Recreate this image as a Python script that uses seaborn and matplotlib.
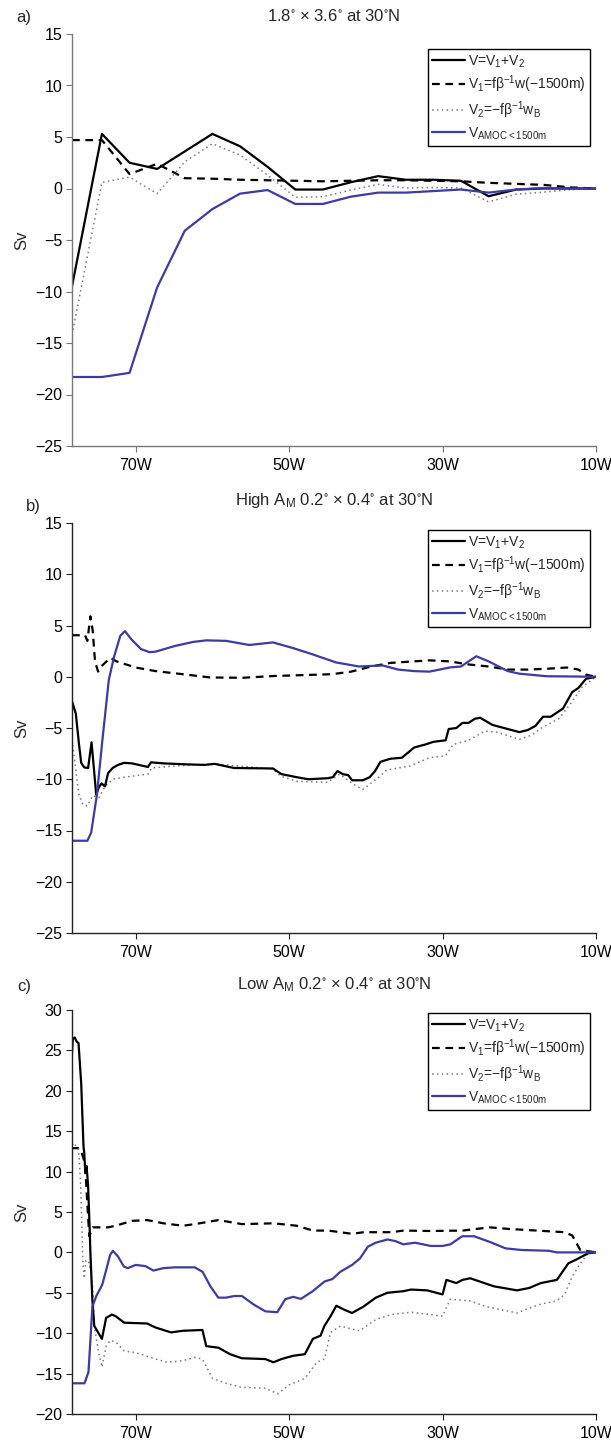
import matplotlib
matplotlib.use("Agg")
import matplotlib.pyplot as plt
import numpy as np
import pandas as pd
import seaborn as sns

sns.set_style("ticks")
plt.rcParams["font.family"] = ["Liberation Sans", "DejaVu Sans"]
plt.rcParams["mathtext.default"] = "regular"

# ---------------- data (lon in degrees east, value in Sv) ----------------
XTICKS = [-70, -50, -30, -10]
XTICKLABELS = ["70W", "50W", "30W", "10W"]

# Panel a: coarse 1.8 x 3.6 model
A_LON = [-78.3, -74.4, -70.8, -67.2, -63.6, -60.0, -56.4, -52.8, -49.2, -45.6,
         -42.0, -38.4, -34.8, -31.2, -27.6, -24.0, -20.4, -16.8, -13.2, -10.0]
A_V = [-9.5, 5.3, 2.5, 1.9, 3.6, 5.3, 4.1, 2.1, -0.1, -0.1,
       0.6, 1.2, 0.85, 0.85, 0.75, -0.75, -0.1, 0.0, 0.0, 0.0]
A_V1 = [4.7, 4.7, 1.4, 2.4, 1.0, 0.95, 0.85, 0.8, 0.75, 0.7,
        0.75, 0.8, 0.8, 0.75, 0.7, 0.55, 0.45, 0.35, 0.1, 0.0]
A_V2 = [-14.2, 0.6, 1.1, -0.5, 2.6, 4.35, 3.25, 1.3, -0.85, -0.8,
        -0.15, 0.4, 0.05, 0.1, 0.05, -1.3, -0.55, -0.35, -0.1, 0.0]
A_AMOC = [-18.3, -18.3, -17.9, -9.6, -4.1, -2.0, -0.5, -0.15, -1.5, -1.5,
          -0.8, -0.4, -0.4, -0.25, -0.1, -0.4, -0.1, 0.05, 0.0, 0.0]

# Panel b: high A_M
B_V = [(-78.3, -2.4), (-77.8, -3.6), (-77.4, -6.5), (-77.1, -8.4), (-76.7, -8.85),
       (-76.2, -8.9), (-75.95, -7.5), (-75.75, -6.4), (-75.5, -8.5), (-75.15, -11.5),
       (-74.8, -10.8), (-74.45, -10.4), (-74.0, -10.7), (-73.6, -9.4), (-73.0, -8.9),
       (-72.3, -8.6), (-71.5, -8.4), (-70.5, -8.45), (-68.4, -8.8), (-68.0, -8.35),
       (-66.4, -8.45), (-63.3, -8.55), (-61.0, -8.6), (-59.7, -8.5), (-57.2, -8.9),
       (-52.1, -8.95), (-51.0, -9.5), (-49.0, -9.8), (-47.5, -10.0), (-45.0, -9.9),
       (-44.3, -9.8), (-43.7, -9.2), (-43.0, -9.5), (-42.3, -9.6), (-41.8, -10.1),
       (-40.4, -10.1), (-39.5, -9.8), (-38.8, -9.2), (-38.1, -8.3), (-36.8, -8.0),
       (-35.3, -7.9), (-34.5, -7.4), (-33.7, -6.9), (-32.2, -6.6), (-31.2, -6.35),
       (-29.6, -6.2), (-29.2, -5.1), (-28.2, -5.0), (-27.4, -4.5), (-26.6, -4.5),
       (-25.8, -4.1), (-25.1, -4.0), (-23.5, -4.7), (-21.5, -5.1), (-20.0, -5.4),
       (-18.9, -5.2), (-17.9, -4.8), (-16.9, -3.9), (-15.9, -3.9), (-14.3, -3.1),
       (-13.1, -1.5), (-12.3, -1.1), (-11.3, -0.2), (-10.0, 0.0)]
B_V1 = [(-78.3, 4.05), (-76.6, 4.05), (-76.3, 3.5), (-75.9, 5.9), (-75.6, 4.5),
        (-75.3, 1.5), (-74.9, 0.5), (-74.5, 1.0), (-73.3, 1.85), (-72.5, 1.5),
        (-70.0, 0.9), (-67.4, 0.55), (-63.3, 0.2), (-60.3, -0.07), (-56.0, -0.1),
        (-52.1, 0.07), (-44.4, 0.25), (-41.9, 0.5), (-39.3, 1.0), (-36.8, 1.35),
        (-31.7, 1.6), (-29.1, 1.5), (-26.6, 1.2), (-24.0, 1.0), (-21.5, 0.7),
        (-18.9, 0.7), (-16.4, 0.78), (-13.8, 0.9), (-12.3, 0.7), (-11.3, 0.2),
        (-10.0, 0.0)]
B_V2 = [(-78.3, -6.2), (-77.9, -8.5), (-77.4, -11.5), (-76.85, -12.5), (-76.3, -12.6),
        (-75.6, -11.6), (-74.8, -11.8), (-74.0, -10.7), (-73.0, -10.0), (-71.5, -9.8),
        (-68.4, -9.5), (-67.9, -8.9), (-64.9, -8.7), (-59.7, -8.5), (-52.1, -9.0),
        (-51.1, -9.7), (-49.0, -10.2), (-45.0, -10.3), (-43.4, -9.5), (-41.6, -10.5),
        (-40.4, -11.0), (-38.3, -9.8), (-37.3, -9.1), (-34.2, -8.7), (-31.7, -7.9),
        (-29.6, -7.7), (-28.6, -6.6), (-26.6, -6.2), (-24.5, -5.3), (-23.0, -5.4),
        (-20.0, -6.1), (-18.4, -5.7), (-16.9, -4.9), (-14.85, -4.1), (-13.3, -2.6),
        (-11.8, -1.0), (-10.0, 0.0)]
B_AMOC = [(-78.3, -16.0), (-76.3, -16.0), (-75.8, -15.2), (-75.05, -11.5), (-74.3, -5.9),
          (-73.5, -0.3), (-72.8, 2.0), (-72.0, 4.0), (-71.4, 4.45), (-70.5, 3.6),
          (-69.3, 2.7), (-68.2, 2.4), (-67.4, 2.45), (-64.9, 3.0), (-62.5, 3.4),
          (-60.8, 3.55), (-58.2, 3.5), (-55.2, 3.1), (-52.1, 3.35), (-49.5, 2.8),
          (-47.0, 2.2), (-43.9, 1.4), (-40.9, 1.0), (-37.8, 1.1), (-35.8, 0.7),
          (-33.7, 0.55), (-31.7, 0.5), (-29.1, 0.9), (-27.6, 1.0), (-25.6, 2.0),
          (-24.0, 1.5), (-21.5, 0.55), (-20.0, 0.3), (-16.4, 0.05), (-10.0, 0.0)]

# Panel c: low A_M
C_V = [(-78.46, 21.8), (-78.2, 26.4), (-77.95, 26.6), (-77.7, 26.1), (-77.45, 25.9),
       (-77.1, 20.9), (-76.8, 13.1), (-76.7, 12.3), (-76.56, 9.8), (-76.4, 10.7),
       (-76.2, 8.2), (-76.0, 3.0), (-75.9, -0.1), (-75.65, -5.8), (-75.4, -9.1),
       (-74.9, -9.9), (-74.4, -10.7), (-73.85, -8.1), (-73.1, -7.7), (-72.6, -7.9),
       (-71.5, -8.7), (-68.5, -8.8), (-67.4, -9.3), (-65.4, -9.9), (-63.85, -9.7),
       (-61.3, -9.6), (-60.8, -11.6), (-59.2, -11.8), (-57.7, -12.6), (-56.15, -13.1),
       (-53.1, -13.2), (-52.05, -13.6), (-51.0, -13.2), (-49.5, -12.8), (-47.95, -12.6),
       (-46.9, -10.7), (-45.9, -10.3), (-45.4, -9.1), (-44.6, -7.9), (-43.85, -6.6),
       (-42.8, -7.1), (-41.8, -7.5), (-40.3, -6.7), (-38.7, -5.6), (-37.2, -5.0),
       (-35.1, -4.8), (-34.1, -4.6), (-32.0, -4.7), (-30.0, -5.2), (-29.5, -3.4),
       (-28.2, -3.8), (-27.4, -3.4), (-26.4, -3.2), (-23.3, -4.2), (-20.3, -4.7),
       (-18.7, -4.4), (-17.2, -3.8), (-15.1, -3.4), (-13.6, -1.35), (-12.6, -0.9),
       (-11.0, -0.1), (-10.0, 0.0)]
C_V1 = [(-78.46, 12.9), (-77.5, 12.9), (-77.0, 12.2), (-76.6, 11.0), (-76.3, 6.0),
        (-76.05, 2.0), (-75.6, 3.1), (-73.6, 3.1), (-72.6, 3.3), (-70.5, 3.9),
        (-68.5, 4.0), (-66.4, 3.6), (-63.85, 3.3), (-62.3, 3.5), (-59.2, 4.0),
        (-56.15, 3.5), (-52.05, 3.6), (-49.0, 3.3), (-46.9, 2.7), (-44.9, 2.7),
        (-41.8, 2.3), (-40.3, 2.5), (-36.7, 2.5), (-35.1, 2.7), (-31.5, 2.65),
        (-27.4, 2.7), (-23.85, 3.1), (-21.3, 2.9), (-14.1, 2.5), (-13.1, 2.1),
        (-12.05, 0.3), (-10.0, 0.0)]
C_V2 = [(-78.46, 9.0), (-78.2, 13.5), (-77.95, 13.4), (-77.7, 13.1), (-77.45, 12.8),
        (-77.2, 9.0), (-77.0, 3.0), (-76.9, -1.0), (-76.7, -3.2), (-76.5, -1.0),
        (-76.2, -1.0), (-75.9, -2.0), (-75.64, -3.8), (-75.4, -9.1), (-74.9, -12.0),
        (-74.4, -14.2), (-73.85, -11.6), (-73.3, -10.9), (-72.6, -11.1), (-71.5, -12.2),
        (-70.0, -12.4), (-67.4, -13.2), (-65.9, -13.6), (-63.85, -13.4), (-62.3, -13.0),
        (-61.3, -13.2), (-60.0, -15.6), (-58.2, -16.2), (-56.15, -16.7), (-53.1, -16.8),
        (-51.5, -17.5), (-50.0, -16.4), (-47.95, -15.6), (-46.4, -13.6), (-45.4, -13.2),
        (-44.6, -9.9), (-43.3, -9.1), (-41.8, -9.5), (-40.8, -9.7), (-38.7, -8.3),
        (-36.7, -7.7), (-34.1, -7.4), (-31.5, -7.7), (-30.0, -7.9), (-29.0, -5.8),
        (-26.4, -6.0), (-24.4, -6.7), (-22.3, -7.1), (-20.3, -7.5), (-18.7, -6.9),
        (-17.2, -6.4), (-15.1, -6.0), (-14.1, -5.2), (-13.1, -3.0), (-12.05, -1.35),
        (-11.0, -0.1), (-10.0, 0.0)]
C_AMOC = [(-78.46, -16.2), (-76.67, -16.2), (-76.15, -14.8), (-75.64, -6.7), (-75.13, -5.4),
          (-74.36, -4.0), (-73.85, -2.2), (-73.33, -0.3), (-72.97, 0.2), (-72.31, -0.5),
          (-71.54, -1.75), (-71.03, -1.95), (-70.0, -1.55), (-68.72, -1.7), (-67.69, -2.25),
          (-66.41, -1.95), (-64.87, -1.85), (-62.31, -1.85), (-61.28, -2.4), (-60.26, -4.2),
          (-59.23, -5.6), (-58.21, -5.6), (-57.18, -5.4), (-56.15, -5.4), (-54.62, -6.45),
          (-53.08, -7.3), (-51.54, -7.4), (-50.51, -5.8), (-49.49, -5.5), (-48.46, -5.75),
          (-46.92, -4.8), (-45.38, -3.6), (-44.36, -3.3), (-43.33, -2.4), (-41.79, -1.55),
          (-40.77, -0.75), (-39.74, 0.7), (-38.72, 1.2), (-37.18, 1.6), (-36.15, 1.4),
          (-35.13, 1.0), (-33.59, 1.2), (-31.54, 0.8), (-30.0, 0.8), (-28.97, 1.0),
          (-27.44, 2.0), (-25.9, 2.0), (-23.85, 1.3), (-21.79, 0.5), (-19.74, 0.3),
          (-16.15, 0.2), (-15.13, 0.0), (-10.0, 0.0)]

LABELS = [r"V=V$_1$+V$_2$",
          r"V$_1$=fβ$^{-1}$w(−1500m)",
          r"V$_2$=−fβ$^{-1}$w$_B$",
          r"V$_{AMOC{<}1500m}$"]
TITLES = [r"1.8$^{\circ}$ $\times$ 3.6$^{\circ}$ at 30$^{\circ}$N",
          r"High A$_M$ 0.2$^{\circ}$ $\times$ 0.4$^{\circ}$ at 30$^{\circ}$N",
          r"Low A$_M$ 0.2$^{\circ}$ $\times$ 0.4$^{\circ}$ at 30$^{\circ}$N"]
LETTERS = ["a)", "b)", "c)"]

# ---------------- styling / layout ----------------
BLUE = "#3b3ba3"
STYLES = [dict(color="black", lw=1.6, ls="-"),
          dict(color="black", lw=1.6, ls=(0, (3.5, 2.5))),
          dict(color="#7a7a7a", lw=1.1, ls=(0, (1, 2.2))),
          dict(color=BLUE, lw=1.6, ls="-")]

FIG_W, FIG_H = 611, 1443
AX_L, AX_R = 72, 596
PANELS = [(34, 446), (523, 933), (1010, 1414)]   # top, bottom (px)
TITLE_Y = [21, 505, 989]                          # baseline (px)
LETTER_XY = [(16, 22), (26, 511), (17, 991)]
LEG_TOP = [49, 530, 1013]
XMIN, XMAX = -78.3, -10.0

fig = plt.figure(figsize=(FIG_W / 100, FIG_H / 100), dpi=100)


def to_df(lons, vals):
    return pd.DataFrame({"lon": lons, "v": vals})


def pairs_df(p):
    return pd.DataFrame(p, columns=["lon", "v"])


series = [
    [to_df(A_LON, A_V), to_df(A_LON, A_V1), to_df(A_LON, A_V2), to_df(A_LON, A_AMOC)],
    [pairs_df(B_V), pairs_df(B_V1), pairs_df(B_V2), pairs_df(B_AMOC)],
    [pairs_df(C_V), pairs_df(C_V1), pairs_df(C_V2), pairs_df(C_AMOC)],
]
ylims = [(-25, 15), (-25, 15), (-20, 30)]
spine_cols = ["#777777", "#222222", "#222222"]

for i, ((top, bot), dfs) in enumerate(zip(PANELS, series)):
    ax = fig.add_axes([AX_L / FIG_W, 1 - bot / FIG_H,
                       (AX_R - AX_L) / FIG_W, (bot - top) / FIG_H])
    lines = {}
    for j in [2, 1, 0, 3]:
        st = STYLES[j]
        sns.lineplot(data=dfs[j], x="lon", y="v", ax=ax, sort=False,
                     estimator=None, color=st["color"], linewidth=st["lw"])
        ln = ax.lines[-1]
        ln.set_linestyle(st["ls"])
        lines[j] = ln
    handles = [lines[j] for j in range(4)]
    ax.set_xlim(XMIN, XMAX)
    ax.set_ylim(*ylims[i])
    ax.set_yticks(np.arange(ylims[i][0], ylims[i][1] + 1, 5))
    ax.set_xticks(XTICKS)
    ax.set_xticklabels(XTICKLABELS)
    ax.set_xlabel("")
    ax.set_ylabel("Sv", fontsize=12)
    ax.yaxis.set_label_coords((29 - AX_L) / (AX_R - AX_L), 0.5)
    sns.despine(ax=ax)
    for s in ("left", "bottom"):
        ax.spines[s].set_color(spine_cols[i])
        ax.spines[s].set_linewidth(1.0)
    ax.tick_params(direction="out", length=4, width=0.8, colors=spine_cols[i],
                   labelcolor="black", labelsize=11.5)
    ax.tick_params(axis="x", pad=4.5)
    ax.tick_params(axis="y", pad=3)
    leg_top = (bot - LEG_TOP[i]) / (bot - top)
    leg = ax.legend(handles, LABELS, loc="upper right",
                    bbox_to_anchor=((590 - AX_L) / (AX_R - AX_L), leg_top),
                    frameon=True, fancybox=False, edgecolor="black", framealpha=1,
                    fontsize=10, handlelength=2.4, handletextpad=0.2,
                    labelspacing=0.3, borderpad=0.3, borderaxespad=0)
    leg.get_frame().set_linewidth(1.0)
    fig.text((AX_L + AX_R) / 2 / FIG_W, 1 - TITLE_Y[i] / FIG_H, TITLES[i],
             fontsize=12, ha="center", va="baseline")
    lx, ly = LETTER_XY[i]
    fig.text(lx / FIG_W, 1 - ly / FIG_H, LETTERS[i], fontsize=12,
             ha="left", va="baseline")

fig.savefig("out.png", dpi=100)
